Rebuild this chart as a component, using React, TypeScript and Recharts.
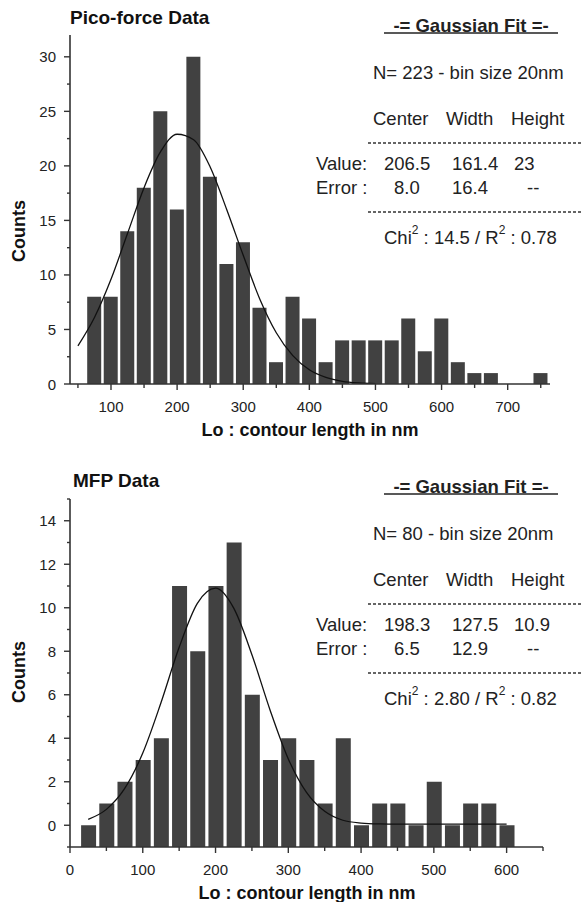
import { Bar, ComposedChart, Line, XAxis, YAxis } from 'recharts';

// Pico-force histogram (bin centres in nm, counts)
const picoBins = [
  75, 100, 125, 150, 175, 200, 225, 250, 275, 300, 325, 350, 375, 400, 425, 450, 475, 500, 525, 550,
  575, 600, 625, 650, 675, 700, 725, 750,
];
const picoCounts = [8, 8, 14, 18, 25, 16, 30, 19, 11, 13, 7, 2, 8, 6, 2, 4, 4, 4, 4, 6, 3, 6, 2, 1, 1, 0, 0, 1];
const picoFitX = [50, 75, 100, 125, 150, 175, 200, 225, 250, 275, 300, 325, 350, 375, 400, 425, 450, 475, 500];
const picoFitY = [3.5, 6.1, 9.6, 13.8, 18.0, 21.3, 22.9, 22.4, 19.9, 16.0, 11.8, 7.8, 4.7, 2.6, 1.3, 0.6, 0.24, 0.09, 0.03];
const picoXTicks = [50, 100, 150, 200, 250, 300, 350, 400, 450, 500, 550, 600, 650, 700, 750];
const picoYTicks = [0, 2.5, 5, 7.5, 10, 12.5, 15, 17.5, 20, 22.5, 25, 27.5, 30];

// MFP histogram
const mfpBins = [
  25, 50, 75, 100, 125, 150, 175, 200, 225, 250, 275, 300, 325, 350, 375, 400, 425, 450, 475, 500, 525,
  550, 575, 600,
];
const mfpCounts = [0, 1, 2, 3, 4, 11, 8, 11, 13, 6, 3, 4, 3, 1, 4, 0, 1, 1, 0, 2, 0, 1, 1, 0];
const mfpFitX = mfpBins;
const mfpFitY = [
  0.27, 0.73, 1.68, 3.32, 5.63, 8.18, 10.2, 10.9, 9.98, 7.84, 5.29, 3.05, 1.51, 0.64, 0.23, 0.1, 0.06, 0.05,
  0.05, 0.05, 0.05, 0.05, 0.05, 0.05,
];
const mfpXTicks = [0, 50, 100, 150, 200, 250, 300, 350, 400, 450, 500, 550, 600, 650];
const mfpYTicks = [-1, 0, 1, 2, 3, 4, 5, 6, 7, 8, 9, 10, 11, 12, 13, 14, 15];

const FONT = '"Liberation Sans", Arial, sans-serif';
const AXIS = '#333';
const BAR = '#414141';

type Row = { x: number; count?: number; fit?: number };

function buildRows(binX: number[], counts: number[], fitX: number[], fitY: number[]): Row[] {
  const map = new Map<number, Row>();
  binX.forEach((x, i) => map.set(x, { ...(map.get(x) ?? { x }), count: counts[i] }));
  fitX.forEach((x, i) => map.set(x, { ...(map.get(x) ?? { x }), fit: fitY[i] }));
  return [...map.values()].sort((a, b) => a.x - b.x);
}

const picoRows = buildRows(picoBins, picoCounts, picoFitX, picoFitY);
const mfpRows = buildRows(mfpBins, mfpCounts, mfpFitX, mfpFitY);

function XTick(props: any) {
  const { x, y, payload, isMajor } = props;
  const major = isMajor(payload.value);
  return (
    <g>
      <line x1={x} x2={x} y1={y} y2={y + (major ? 6 : 4)} stroke={AXIS} strokeWidth={1.4} />
      {major && (
        <text x={x} y={y + 22} textAnchor="middle" dominantBaseline="central" fontSize={15} fill="#222" fontFamily={FONT}>
          {payload.value}
        </text>
      )}
    </g>
  );
}

function YTick(props: any) {
  const { x, y, payload, isMajor } = props;
  const major = isMajor(payload.value);
  return (
    <g>
      <line x1={x - (major ? 6 : 3)} x2={x} y1={y} y2={y} stroke={AXIS} strokeWidth={1.4} />
      {major && (
        <text x={x - 14} y={y} textAnchor="end" dominantBaseline="central" fontSize={15} fill="#222" fontFamily={FONT}>
          {payload.value}
        </text>
      )}
    </g>
  );
}

function FitBox({ top, n, values, errors, chi, r2 }: { top: number; n: string; values: string[]; errors: string[]; chi: string; r2: string }) {
  const t = (dy: number) => top + dy;
  const common = { fontFamily: FONT, fontSize: 18.5, fill: '#222', dominantBaseline: 'central' as const };
  return (
    <g>
      <text x={471} y={t(0)} textAnchor="middle" fontWeight="bold" {...common}>-= Gaussian Fit =-</text>
      <line x1={384} x2={558} y1={t(8)} y2={t(8)} stroke="#222" strokeWidth={1.5} />
      <text x={373} y={t(47)} {...common}>{n}</text>
      <text x={373} y={t(93)} {...common}>Center</text>
      <text x={446} y={t(93)} {...common}>Width</text>
      <text x={511} y={t(93)} {...common}>Height</text>
      <line x1={368} x2={581} y1={t(118)} y2={t(118)} stroke="#333" strokeWidth={1.3} strokeDasharray="3 2" />
      <text x={316} y={t(138)} {...common}>Value:</text>
      <text x={384} y={t(138)} {...common}>{values[0]}</text>
      <text x={452} y={t(138)} {...common}>{values[1]}</text>
      <text x={514} y={t(138)} {...common}>{values[2]}</text>
      <text x={316} y={t(162)} {...common}>Error :</text>
      <text x={394} y={t(162)} textAnchor="start" {...common}>{errors[0]}</text>
      <text x={452} y={t(162)} {...common}>{errors[1]}</text>
      <text x={527} y={t(162)} {...common}>--</text>
      <line x1={368} x2={581} y1={t(187)} y2={t(187)} stroke="#333" strokeWidth={1.3} strokeDasharray="3 2" />
      <text x={384} y={t(212)} {...common}>
        Chi<tspan fontSize={12} dy={-7}>2</tspan>
        <tspan dy={7}> : {chi} / R</tspan>
        <tspan fontSize={12} dy={-7}>2</tspan>
        <tspan dy={7}> : {r2}</tspan>
      </text>
    </g>
  );
}

function Histogram({ rows, width, height, margin, xDomain, xTicks, yDomain, yTicks, xMajor, yMajor, barSize, range }: any) {
  return (
    <ComposedChart width={width} height={height} data={rows} margin={margin}>
      <XAxis
        type="number"
        dataKey="x"
        domain={xDomain}
        ticks={xTicks}
        allowDataOverflow
        interval={0}
        height={30}
        tickSize={0}
        tickMargin={0}
        tickLine={false}
        axisLine={{ stroke: AXIS, strokeWidth: 1.6 }}
        tick={(p: any) => <XTick {...p} isMajor={xMajor} />}
      />
      <YAxis
        type="number"
        domain={yDomain}
        ticks={yTicks}
        allowDataOverflow
        interval={0}
        width={60}
        tickSize={0}
        tickMargin={0}
        tickLine={false}
        axisLine={{ stroke: AXIS, strokeWidth: 1.6 }}
        tick={(p: any) => <YTick {...p} isMajor={yMajor} />}
      />
      <Bar
        dataKey={range ? (d: Row) => (d.count == null ? null : [yDomain[0], d.count]) : 'count'}
        fill={BAR}
        barSize={barSize}
        isAnimationActive={false}
      />
      <Line
        dataKey="fit"
        type="monotone"
        stroke="#111"
        strokeWidth={1.3}
        dot={false}
        activeDot={false}
        connectNulls
        isAnimationActive={false}
      />
    </ComposedChart>
  );
}

export default function App() {
  return (
    <div style={{ position: 'absolute', left: 0, top: 0, width: 581, height: 902, background: '#fff', overflow: 'hidden' }}>
      <div style={{ position: 'absolute', left: 0, top: 0 }}>
        <Histogram
          rows={picoRows}
          width={581}
          height={430}
          margin={{ top: 35, right: 31, left: 10, bottom: 16 }}
          xDomain={[38, 764]}
          xTicks={picoXTicks}
          yDomain={[0, 32]}
          yTicks={picoYTicks}
          xMajor={(v: number) => v % 100 === 0}
          yMajor={(v: number) => v % 5 === 0}
          barSize={14}
          range={false}
        />
      </div>
      <div style={{ position: 'absolute', left: 0, top: 440 }}>
        <Histogram
          rows={mfpRows}
          width={581}
          height={462}
          margin={{ top: 59, right: 38, left: 10, bottom: 25 }}
          xDomain={[0, 650]}
          xTicks={mfpXTicks}
          yDomain={[-1, 15]}
          yTicks={mfpYTicks}
          xMajor={(v: number) => v % 100 === 0 && v <= 600}
          yMajor={(v: number) => v % 2 === 0 && v >= 0 && v <= 14}
          barSize={15}
          range
        />
      </div>
      <svg width={581} height={902} style={{ position: 'absolute', left: 0, top: 0, pointerEvents: 'none' }}>
        <text x={70} y={17} fontFamily={FONT} fontSize={19} fontWeight="bold" fill="#111" dominantBaseline="central">
          Pico-force Data
        </text>
        <text x={73} y={480} fontFamily={FONT} fontSize={19} fontWeight="bold" fill="#111" dominantBaseline="central">
          MFP Data
        </text>
        <text x={310} y={430} textAnchor="middle" fontFamily={FONT} fontSize={18} fontWeight="bold" fill="#111" dominantBaseline="central">
          Lo : contour length in nm
        </text>
        <text x={307} y={893} textAnchor="middle" fontFamily={FONT} fontSize={18} fontWeight="bold" fill="#111" dominantBaseline="central">
          Lo : contour length in nm
        </text>
        <text
          transform="translate(19,231) rotate(-90)"
          textAnchor="middle"
          fontFamily={FONT}
          fontSize={18}
          fontWeight="bold"
          fill="#111"
          dominantBaseline="central"
        >
          Counts
        </text>
        <text
          transform="translate(19,672) rotate(-90)"
          textAnchor="middle"
          fontFamily={FONT}
          fontSize={18}
          fontWeight="bold"
          fill="#111"
          dominantBaseline="central"
        >
          Counts
        </text>
        <FitBox top={25} n="N= 223 - bin size 20nm" values={['206.5', '161.4', '23']} errors={['8.0', '16.4']} chi="14.5" r2="0.78" />
        <FitBox top={486} n="N= 80 - bin size 20nm" values={['198.3', '127.5', '10.9']} errors={['6.5', '12.9']} chi="2.80" r2="0.82" />
      </svg>
    </div>
  );
}
